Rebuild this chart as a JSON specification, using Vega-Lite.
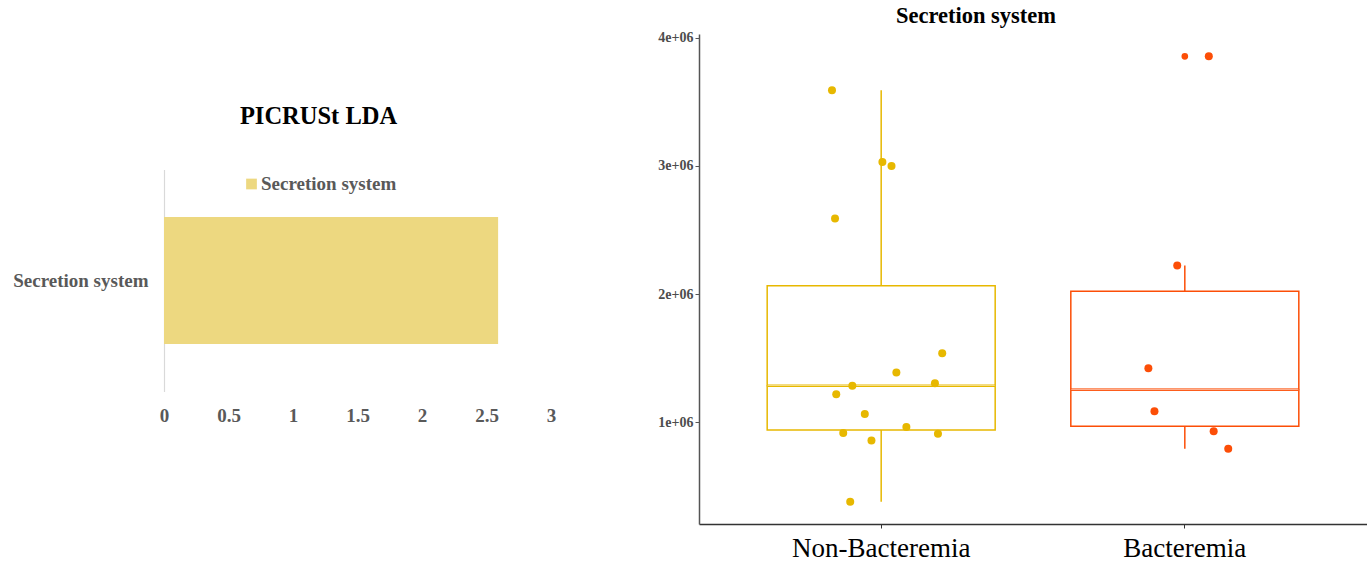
{
  "$schema": "https://vega.github.io/schema/vega-lite/v6.json",
  "background": "white",
  "padding": {"left": 12, "top": 5, "right": 0, "bottom": 0},
  "center": true,
  "spacing": 101,
  "resolve": {"scale": {"color": "independent", "stroke": "independent"}, "legend": {"color": "independent"}},
  "config": {"view": {"stroke": null}, "font": "Liberation Serif"},
  "datasets": {
    "lda": [{"pathway": "Secretion system", "LDA": 2.59}],
    "abund": [
      {"group": "Non-Bacteremia", "value": 3590000, "jitter": -0.162},
      {"group": "Non-Bacteremia", "value": 3030000, "jitter": 0.004},
      {"group": "Non-Bacteremia", "value": 3000000, "jitter": 0.034},
      {"group": "Non-Bacteremia", "value": 2590000, "jitter": -0.152},
      {"group": "Non-Bacteremia", "value": 1540000, "jitter": 0.201},
      {"group": "Non-Bacteremia", "value": 1390000, "jitter": 0.05},
      {"group": "Non-Bacteremia", "value": 1286000, "jitter": -0.095},
      {"group": "Non-Bacteremia", "value": 1306000, "jitter": 0.177},
      {"group": "Non-Bacteremia", "value": 1220000, "jitter": -0.148},
      {"group": "Non-Bacteremia", "value": 1065000, "jitter": -0.054},
      {"group": "Non-Bacteremia", "value": 964000, "jitter": 0.083},
      {"group": "Non-Bacteremia", "value": 917000, "jitter": -0.125},
      {"group": "Non-Bacteremia", "value": 912000, "jitter": 0.187},
      {"group": "Non-Bacteremia", "value": 860000, "jitter": -0.032},
      {"group": "Non-Bacteremia", "value": 382000, "jitter": -0.102},
      {"group": "Bacteremia", "value": 3855000, "jitter": 0.079},
      {"group": "Bacteremia", "value": 2224000, "jitter": -0.025},
      {"group": "Bacteremia", "value": 1423000, "jitter": -0.12},
      {"group": "Bacteremia", "value": 1088000, "jitter": -0.1},
      {"group": "Bacteremia", "value": 932000, "jitter": 0.095},
      {"group": "Bacteremia", "value": 795000, "jitter": 0.143}
    ]
  },
  "hconcat": [
    {
      "data": {"name": "lda"},
      "width": 387,
      "height": 222,
      "title": {"text": "PICRUSt LDA", "fontSize": 24.5, "fontWeight": "bold", "color": "black", "offset": 40, "dx": -39, "anchor": "middle"},
      "mark": {"type": "bar"},
      "encoding": {
        "y": {"field": "pathway", "type": "nominal", "scale": {"paddingInner": 0.272, "paddingOuter": 0.272},
          "axis": {"title": null, "ticks": false, "domainColor": "#d9d9d9", "domainWidth": 1.2, "labelFontSize": 19, "labelFontWeight": "bold", "labelColor": "#595959", "labelPadding": 16}},
        "x": {"field": "LDA", "type": "quantitative", "scale": {"domain": [0, 3], "nice": false},
          "axis": {"title": null, "values": [0, 0.5, 1, 1.5, 2, 2.5, 3], "format": "~g", "grid": false, "domain": false, "ticks": false, "labelFontSize": 19, "labelFontWeight": "bold", "labelColor": "#595959", "labelPadding": 15, "labelFlush": false}},
        "color": {"field": "pathway", "type": "nominal", "scale": {"range": ["#EDD880"]},
          "legend": {"orient": "none", "legendX": 78, "legendY": 5, "title": null, "symbolType": "square", "symbolSize": 115, "symbolStrokeWidth": 0, "labelFontSize": 19, "labelFontWeight": "bold", "labelColor": "#595959", "labelOffset": 0}}
      }
    },
    {
      "data": {"name": "abund"},
      "width": 668,
      "height": 490,
      "title": {"text": "Secretion system", "fontSize": 22.5, "fontWeight": "bold", "color": "black", "offset": 3, "dx": -57, "anchor": "middle"},
      "encoding": {
        "x": {"field": "group", "type": "nominal", "sort": ["Non-Bacteremia", "Bacteremia"], "scale": {"paddingInner": 0, "paddingOuter": 0.1},
          "axis": {"title": null, "labelAngle": 0, "labelFontSize": 27, "labelColor": "black", "labelPadding": 7, "domainColor": "#333333", "domainWidth": 1.3, "tickColor": "#333333", "tickSize": 4}},
        "y": {"field": "value", "type": "quantitative", "scale": {"domain": [208000, 4029000], "nice": false, "zero": false},
          "axis": {"title": null, "grid": false, "values": [1000000, 2000000, 3000000, 4000000], "labelExpr": "(datum.value/1000000) + 'e+06'", "labelFontSize": 14, "labelFontWeight": "bold", "labelColor": "#4d4d4d", "labelPadding": 2, "domainColor": "#555555", "domainWidth": 1.5, "tickColor": "#555555", "tickSize": 4}}
      },
      "layer": [
        {
          "mark": {"type": "boxplot", "extent": 1.5, "size": 228, "box": {"fillOpacity": 0, "strokeWidth": 1.5}, "median": {"thickness": 1.5, "opacity": 1}, "rule": {"strokeWidth": 1.5}, "outliers": {"filled": true, "size": 22, "opacity": 1}},
          "encoding": {
            "color": {"field": "group", "type": "nominal", "scale": {"domain": ["Non-Bacteremia", "Bacteremia"], "range": ["#E7B800", "#FC4E07"]}, "legend": null},
            "stroke": {"field": "group", "type": "nominal", "scale": {"domain": ["Non-Bacteremia", "Bacteremia"], "range": ["#E7B800", "#FC4E07"]}, "legend": null}
          }
        },
        {
          "mark": {"type": "point", "filled": true, "size": 64, "opacity": 1},
          "encoding": {
            "xOffset": {"field": "jitter", "type": "quantitative", "scale": {"domain": [-0.5, 0.5], "nice": false, "zero": false}},
            "color": {"field": "group", "type": "nominal", "scale": {"domain": ["Non-Bacteremia", "Bacteremia"], "range": ["#E7B800", "#FC4E07"]}, "legend": null}
          }
        }
      ]
    }
  ]
}
